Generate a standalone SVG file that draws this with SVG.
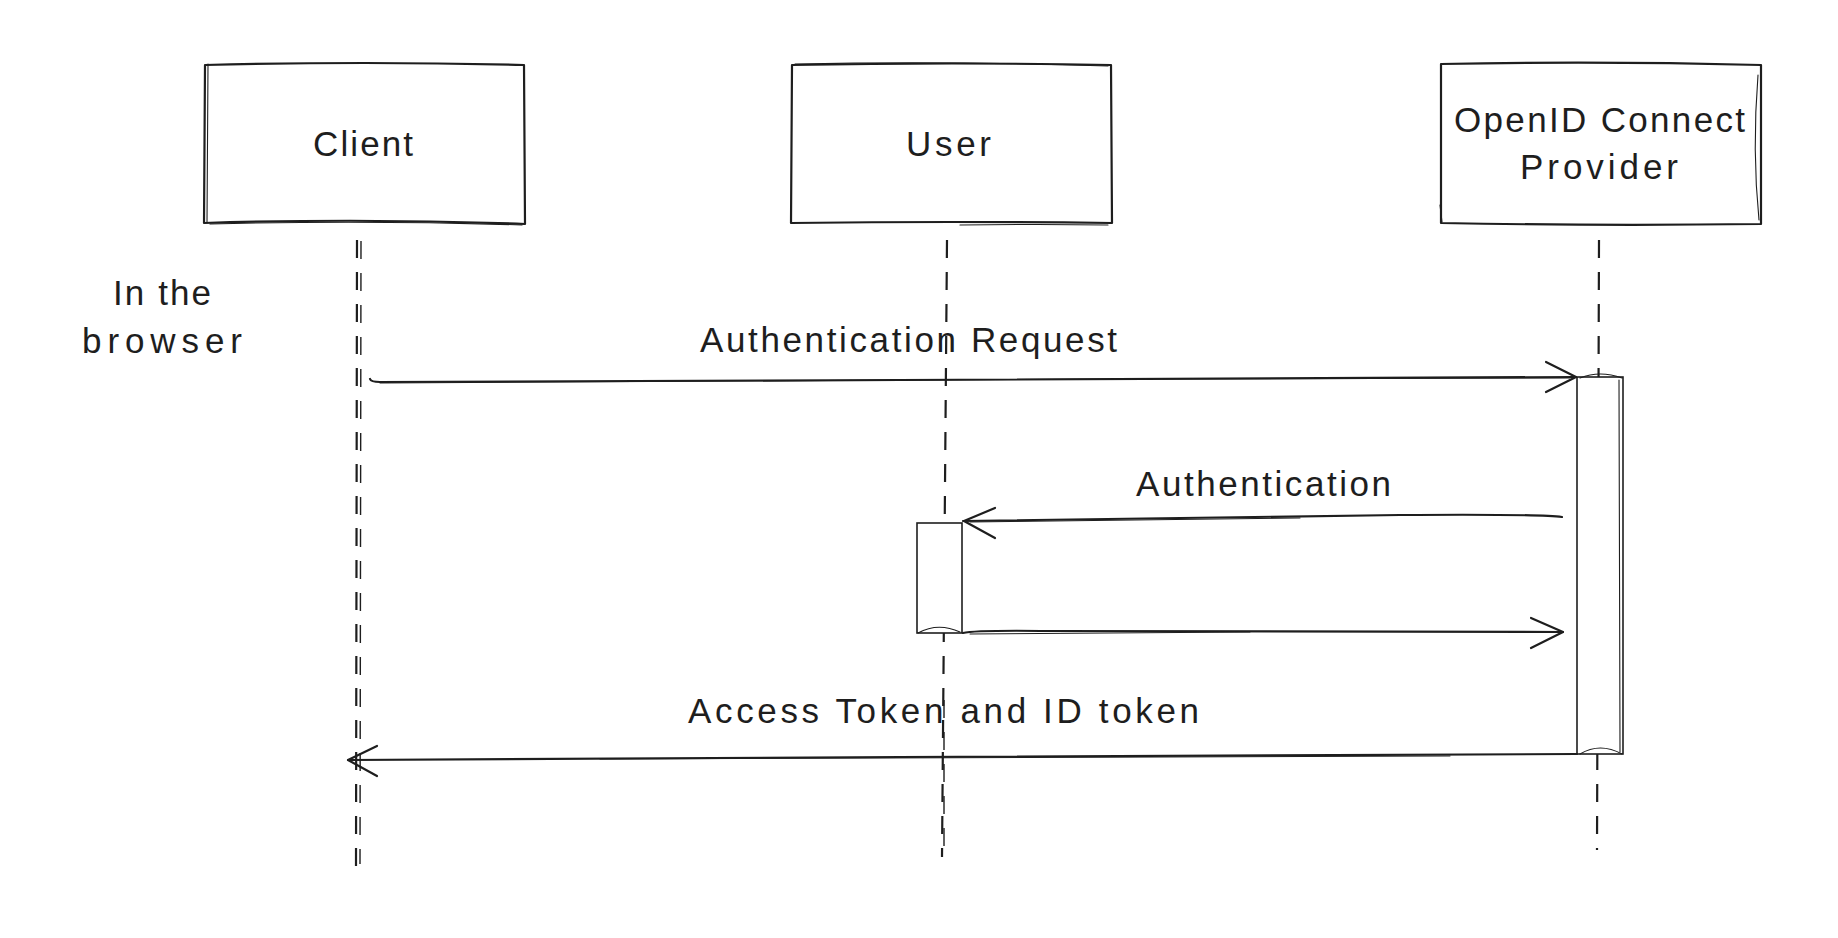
<svg xmlns="http://www.w3.org/2000/svg" width="1838" height="938" viewBox="0 0 1838 938">
<style>
.bg{fill:#ffffff}
.box{fill:#ffffff;stroke:#1e1e1e;stroke-width:2.2;stroke-linejoin:round}
.sk{fill:none;stroke:#1e1e1e;stroke-width:1.1;stroke-linecap:round}
.life{fill:none;stroke:#1e1e1e;stroke-width:2.2;stroke-dasharray:18 14}
.life2{fill:none;stroke:#1e1e1e;stroke-width:1.4;stroke-dasharray:18 14}
.act{fill:#ffffff;stroke:#1e1e1e;stroke-width:1.6}
.ln{fill:none;stroke:#1e1e1e;stroke-width:2.2;stroke-linecap:round;stroke-linejoin:round}
.ln2{fill:none;stroke:#1e1e1e;stroke-width:1;stroke-linecap:round}
.t{font-family:"Liberation Sans",Arial,sans-serif;font-size:35px;fill:#1e1e1e}
</style>
<rect class="bg" x="0" y="0" width="1838" height="938"/>

<g id="lifelines">
  <path class="life" d="M357,240 L356,866"/>
  <path class="life2" d="M361,241 L360,864"/>
  <path class="life" d="M947,240 L942,857"/>
  <path class="life2" d="M944,700 L944,850"/>
  <path class="life" d="M1599,240 L1597,850"/>
</g>

<g id="node-client">
  <path class="box" d="M205,65 Q365,61 524,65 L525,224 Q365,218 204,223 Z"/>
  <path class="sk" d="M208,64 L207,222"/>
  <path class="sk" d="M210,224 Q365,220 522,225"/>
  <text class="t" x="313" y="156" textLength="100" lengthAdjust="spacing">Client</text>
</g>

<g id="node-user">
  <path class="box" d="M792,65 Q952,62 1111,65 L1112,223 Q952,221 791,223 Z"/>
  <path class="sk" d="M795,64 Q952,61 1108,66"/>
  <path class="sk" d="M960,225 Q1040,224 1108,225"/>
  <text class="t" x="906" y="156" textLength="85" lengthAdjust="spacing">User</text>
</g>

<g id="node-openid">
  <path class="box" d="M1441,64 Q1601,61 1761,65 L1761,224 Q1601,226 1441,223 Z"/>
  <path class="sk" d="M1758,75 Q1752,150 1759,220"/>
  <path class="sk" d="M1440,205 L1442,222"/>
  <text class="t" x="1454" y="132" textLength="291" lengthAdjust="spacing">OpenID Connect</text>
  <text class="t" x="1520" y="179" textLength="158" lengthAdjust="spacing">Provider</text>
</g>

<g id="note-browser">
  <text class="t" x="113" y="305" textLength="98" lengthAdjust="spacing">In the</text>
  <text class="t" x="82" y="353" textLength="160" lengthAdjust="spacing">browser</text>
</g>

<g id="activation-openid">
  <rect class="act" x="1577" y="377" width="46" height="377"/>
  <path class="sk" d="M1580,378 Q1600,370 1622,378"/>
  <path class="sk" d="M1580,754 Q1600,742 1622,754"/>
  <path class="sk" d="M1619,380 L1620,752"/>
</g>

<g id="activation-user">
  <rect class="act" x="917" y="523" width="45" height="110"/>
  <path class="sk" d="M918,633 Q938,622 960,632"/>
</g>

<g id="connectors">
  <g id="msg-auth-request">
    <path class="ln" d="M370,379 Q371,382 380,382 L900,380 L1576,377"/>
    <path class="ln2" d="M380,383 L1100,379 L1570,378"/>
    <path class="ln" d="M1546,362 L1576,377 L1546,392"/>
  </g>
  <g id="msg-authentication">
    <path class="ln" d="M1562,517 Q1540,514 1400,515 L963,521"/>
    <path class="ln2" d="M970,522 L1300,518"/>
    <path class="ln" d="M995,508 L964,521 L995,538"/>
  </g>
  <g id="msg-return">
    <path class="ln" d="M963,633 Q975,630 1050,631 L1563,632"/>
    <path class="ln2" d="M970,634 L1250,632"/>
    <path class="ln" d="M1531,618 L1563,632 L1531,648"/>
  </g>
  <g id="msg-tokens">
    <path class="ln" d="M1577,754 L900,757 L348,760"/>
    <path class="ln2" d="M1450,756 L600,759"/>
    <path class="ln" d="M377,746 L348,760 L377,776"/>
  </g>
  <text class="t" x="700" y="352" textLength="417" lengthAdjust="spacing">Authentication Request</text>
  <text class="t" x="1136" y="496" textLength="255" lengthAdjust="spacing">Authentication</text>
  <text class="t" x="688" y="723" textLength="511" lengthAdjust="spacing">Access Token and ID token</text>
</g>
</svg>
